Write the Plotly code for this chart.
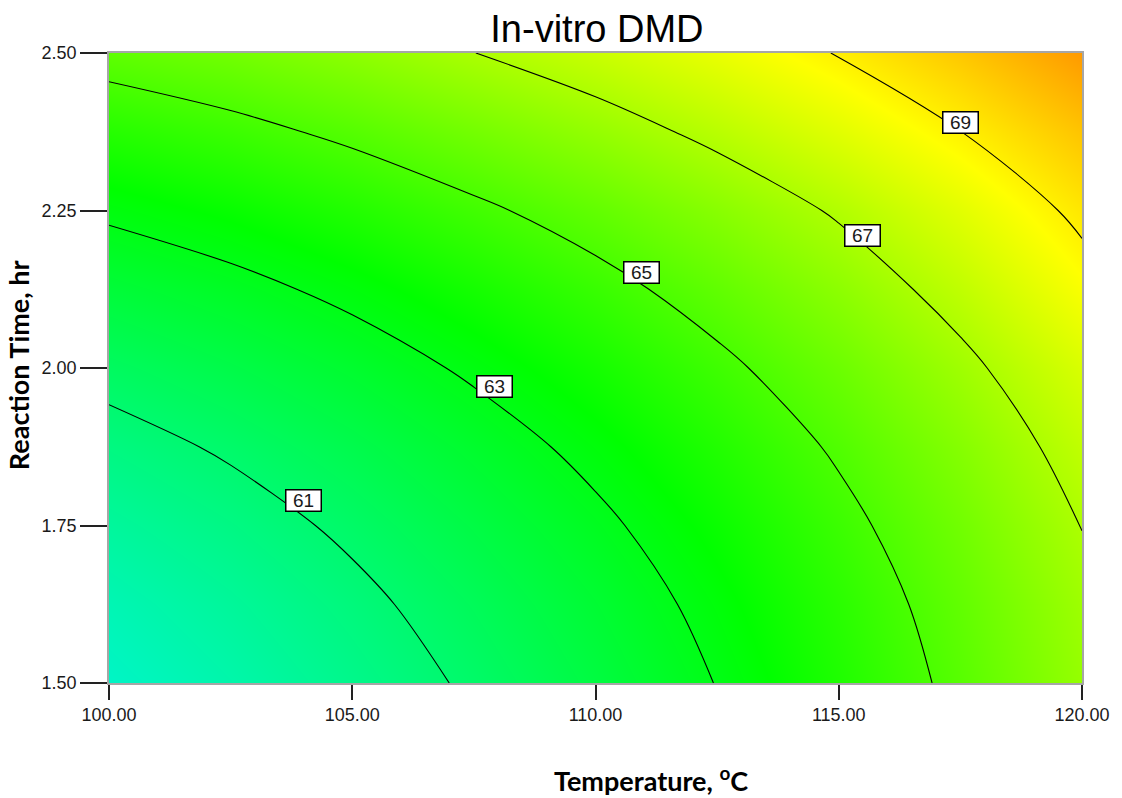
import plotly.graph_objects as go

# Factor levels of the response-surface grid
temperature = [100.0, 102.5, 105.0, 107.5, 110.0, 112.5, 115.0, 117.5, 120.0]
reaction_time = [1.5, 1.625, 1.75, 1.875, 2.0, 2.125, 2.25, 2.375, 2.5]

# In-vitro DMD (%), one row per reaction time, one column per temperature
dmd = [
    [59.05, 59.66, 60.37, 61.16, 62.04, 63.03, 64.11, 65.27, 66.54],
    [59.45, 60.04, 60.73, 61.51, 62.36, 63.31, 64.35, 65.48, 66.72],
    [59.98, 60.54, 61.20, 61.96, 62.78, 63.69, 64.70, 65.80, 67.02],
    [60.60, 61.14, 61.77, 62.50, 63.29, 64.17, 65.14, 66.21, 67.42],
    [61.35, 61.87, 62.46, 63.16, 63.91, 64.76, 65.69, 66.74, 67.92],
    [62.22, 62.69, 63.26, 63.92, 64.64, 65.46, 66.37, 67.40, 68.60],
    [63.18, 63.63, 64.17, 64.80, 65.48, 66.26, 67.12, 68.10, 69.22],
    [64.25, 64.69, 65.22, 65.85, 66.52, 67.26, 68.09, 68.99, 70.00],
    [65.43, 65.84, 66.38, 66.99, 67.60, 68.28, 69.05, 69.92, 70.92],
]

contour_levels = [61, 63, 65, 67, 69]
# where each contour label box sits on its line
label_temp = [104.0, 107.93, 110.94, 115.49, 117.5]
label_time = [1.789, 1.971, 2.151, 2.210, 2.390]

x_ticks = [100, 105, 110, 115, 120]
y_ticks = [1.50, 1.75, 2.00, 2.25, 2.50]

zmin, zmax = 59.0, 71.0
colorscale = [
    [0.0, "rgb(0,245,200)"],
    [0.375, "rgb(0,255,0)"],
    [0.8083, "rgb(255,255,0)"],
    [1.0, "rgb(255,150,0)"],
]

fig = go.Figure()

fig.add_trace(go.Heatmap(
    x=temperature, y=reaction_time, z=dmd,
    zmin=zmin, zmax=zmax, colorscale=colorscale,
    zsmooth="best", showscale=False, hoverinfo="skip",
))

fig.add_trace(go.Contour(
    x=temperature, y=reaction_time, z=dmd,
    contours=dict(start=contour_levels[0], end=contour_levels[-1],
                  size=contour_levels[1] - contour_levels[0], coloring="none"),
    line=dict(color="black", width=1.1, smoothing=1.0),
    showscale=False, hoverinfo="skip",
))

tick_font = dict(family="Liberation Sans, Arial, sans-serif", size=18, color="#1a1a1a")
title_font = dict(family="Lato, Open Sans, sans-serif", size=27, color="black")

annotations = []
for lvl, tx, ty in zip(contour_levels, label_temp, label_time):
    annotations.append(dict(
        x=tx, y=ty, xref="x", yref="y", text=str(lvl), showarrow=False,
        font=dict(family="Liberation Sans, Arial, sans-serif", size=19, color="#1a1a1a"),
        width=32, height=18, align="center",
        bgcolor="white", bordercolor="black", borderwidth=1.5, borderpad=1,
    ))

annotations.append(dict(
    x=0.557, y=-0.152, xref="paper", yref="paper",
    text="<b>Temperature, <sup>o</sup>C</b>", showarrow=False,
    xanchor="center", yanchor="middle", font=title_font,
))
annotations.append(dict(
    x=-0.0922, y=0.505, xref="paper", yref="paper",
    text="<b>Reaction Time, hr</b>", showarrow=False, textangle=-90,
    xanchor="center", yanchor="middle", font=title_font,
))

axis_common = dict(
    showgrid=True, gridcolor="#a6a6a6", gridwidth=1.5,
    showline=True, linecolor="#a6a6a6", linewidth=1.5, mirror=True,
    zeroline=False, ticks="outside", tickcolor="#222222", tickwidth=1.5,
    tickfont=tick_font, tickformat=".2f",
)

fig.update_layout(
    width=1122, height=798,
    margin=dict(l=109, r=37, t=53, b=115),
    paper_bgcolor="white", plot_bgcolor="white",
    title=dict(text="In-vitro DMD", x=0.532, xanchor="center",
               y=1 - 29 / 798, yanchor="middle", yref="container",
               font=dict(family="Liberation Sans, Arial, sans-serif", size=38, color="black")),
    xaxis=dict(range=[100, 120], tickvals=x_ticks, ticklen=15, **axis_common),
    yaxis=dict(range=[1.5, 2.5], tickvals=y_ticks, ticklen=27, **axis_common),
    annotations=annotations,
    showlegend=False,
)

fig.write_html("out.html")
